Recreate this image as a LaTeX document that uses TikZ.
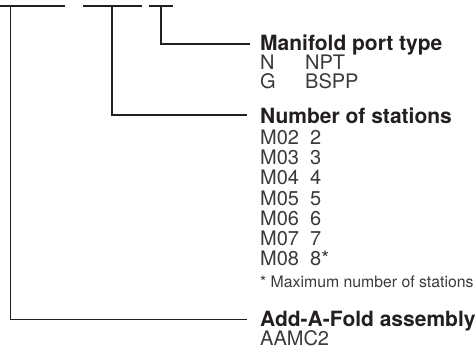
\documentclass[tikz,border=0pt]{standalone}
\usepackage{fontspec}
\setmainfont{TeX Gyre Heros}
\definecolor{ink}{HTML}{231F20}
\definecolor{txt}{HTML}{3A3A3A}
\tikzset{
  lead/.style={draw=ink, line width=1.4pt},
  title/.style={anchor=base west, inner sep=0pt, font=\fontsize{21}{21}\selectfont\bfseries, text=ink},
  entry/.style={anchor=base west, inner sep=0pt, font=\fontsize{20}{20}\selectfont, text=txt},
  note/.style={anchor=base west, inner sep=0pt, font=\fontsize{15.8}{16}\selectfont, text=txt}
}
\begin{document}
\begin{tikzpicture}[x=1pt,y=-1pt]
\useasboundingbox (0,0) rectangle (476,348);
% top bars
\coordinate (b1l) at (0,6);   \coordinate (b1r) at (65,6);
\coordinate (b2l) at (83,6);  \coordinate (b2r) at (142,6);
\coordinate (b3l) at (149,6); \coordinate (b3r) at (173,6);
\draw[lead] (b1l) -- (b1r);
\draw[lead] (b2l) -- (b2r);
\draw[lead] (b3l) -- (b3r);
% leader start points and ends
\coordinate (v1) at (10.5,6);
\coordinate (v2) at (112,6);
\coordinate (v3) at (161,6);
\coordinate (e1) at (247,319.5);
\coordinate (e2) at (247,115);
\coordinate (e3) at (250,44);
\draw[lead] (v3) |- (e3);
\draw[lead] (v2) |- (e2);
\draw[lead] (v1) |- (e1);
% Manifold port type
\node[title] (tport) at (260,50) {Manifold port type};
\node[entry] (pN) at (260,69) {N};
\node[entry] (pNv) at (305,69) {NPT};
\node[entry] (pG) at (260,88.5) {G};
\node[entry] (pGv) at (305,88.5) {BSPP};
% Number of stations
\node[title] (tnum) at (260,123) {Number of stations};
\foreach \c/\v [count=\i from 0] in {M02/2,M03/3,M04/4,M05/5,M06/6,M07/7,M08/8*}{
  \node[entry] (s\i) at (260,{144.5+20.2*\i}) {\c};
  \node[entry] (sv\i) at (310,{144.5+20.2*\i}) {\v};
}
\node[note] (fn) at (260,287) {* Maximum number of stations};
% Add-A-Fold assembly
\node[title] (tadd) at (260,326.5) {Add-A-Fold assembly};
\node[entry] (aa) at (260,345) {AAMC2};
\end{tikzpicture}
\end{document}
